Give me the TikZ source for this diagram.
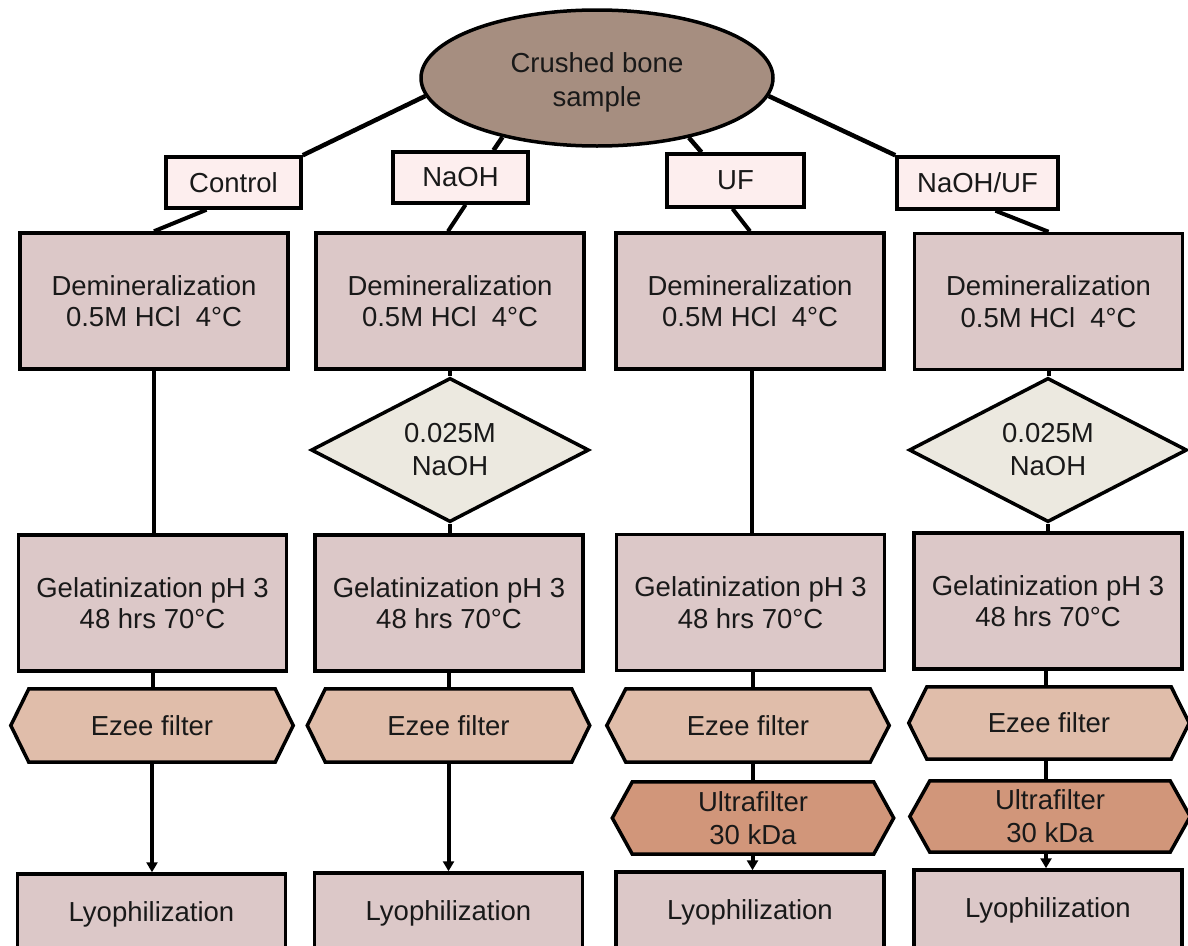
\documentclass[tikz,border=0pt]{standalone}
\usepackage{fontspec}
\setmainfont{Liberation Sans}
\usetikzlibrary{shapes.geometric,arrows.meta,backgrounds,calc}
\definecolor{ellfill}{RGB}{166,142,128}
\definecolor{labfill}{RGB}{253,238,238}
\definecolor{boxfill}{RGB}{220,200,200}
\definecolor{diafill}{RGB}{236,233,224}
\definecolor{ezeefill}{RGB}{224,189,170}
\definecolor{ultrafill}{RGB}{209,150,122}
\newcommand\hexdraw[3]{%
  \begin{pgfonlayer}{background}
  \filldraw[fill=#2, line width=3.5pt, line join=miter]
    (#1.west) -- ([xshift=#3]#1.north west) -- ([xshift=-#3]#1.north east)
    -- (#1.east) -- ([xshift=-#3]#1.south east) -- ([xshift=#3]#1.south west) -- cycle;
  \end{pgfonlayer}}
\begin{document}
\begin{tikzpicture}[x=1pt,y=-1pt,
  txt/.style={font=\fontsize{27.5}{31.5}\selectfont, align=center, inner sep=0pt, text=black!90},
  lab/.style={txt, draw, line width=3.5pt, fill=labfill, minimum height=51pt},
  stepbox/.style={txt, draw, line width=3.5pt, fill=boxfill, minimum width=268pt, minimum height=136pt},
  lyo/.style={txt, draw, line width=3.5pt, fill=boxfill, minimum width=268pt, minimum height=80pt},
  dia/.style={txt, draw, line width=3.5pt, fill=diafill, shape=diamond, minimum width=278pt, minimum height=134pt, font=\fontsize{27.5}{33}\selectfont},
  hex/.style={txt, minimum width=282pt, minimum height=73pt, font=\fontsize{27.5}{33}\selectfont},
  conn/.style={line width=4pt},
  arr/.style={line width=4pt, -{Triangle[length=10pt,width=11pt]}}]
\clip (0,0) rectangle (1188,945);
\begin{pgfonlayer}{background}
\fill[white] (0,0) rectangle (1188,945);
\end{pgfonlayer}
% top
\node[txt, draw, line width=3.5pt, fill=ellfill, shape=ellipse, minimum width=352pt, minimum height=136pt, font=\fontsize{27.5}{34}\selectfont, text height=63pt] (ell) at (597,78) {Crushed bone\\sample};
% labels
\node[lab, minimum width=135pt] (ctrl) at (233.5,182.5) {Control};
\node[lab, minimum width=135pt] (naoh) at (460.5,177.5) {NaOH};
\node[lab, minimum width=137pt, minimum height=53pt] (uf) at (735.5,180.5) {UF};
\node[lab, minimum width=161pt, minimum height=52pt] (nu) at (977.5,183) {NaOH/UF};
% demineralization
\node[stepbox] (d1) at (154,301) {Demineralization\\0.5M HCl\hspace{0.55em}4°C};
\node[stepbox] (d2) at (450,301) {Demineralization\\0.5M HCl\hspace{0.55em}4°C};
\node[stepbox] (d3) at (750,301) {Demineralization\\0.5M HCl\hspace{0.55em}4°C};
\node[stepbox] (d4) at (1048.5,301.5) {Demineralization\\0.5M HCl\hspace{0.55em}4°C};
% diamonds
\node[dia] (n2) at (450,450) {0.025M\\NaOH};
\node[dia] (n4) at (1048,450) {0.025M\\NaOH};
% gelatinization
\node[stepbox] (g1) at (152.5,603) {Gelatinization pH 3\\48 hrs 70°C};
\node[stepbox] (g2) at (449,603) {Gelatinization pH 3\\48 hrs 70°C};
\node[stepbox] (g3) at (750.5,602.5) {Gelatinization pH 3\\48 hrs 70°C};
\node[stepbox] (g4) at (1048,601) {Gelatinization pH 3\\48 hrs 70°C};
% ezee filter
\node[hex] (e1) at (152,725.5) {Ezee filter};
\node[hex] (e2) at (448.5,725.5) {Ezee filter};
\node[hex] (e3) at (748,725.5) {Ezee filter};
\node[hex, minimum width=280pt, minimum height=72pt] (e4) at (1049,723) {Ezee filter};
\hexdraw{e1}{ezeefill}{18pt}
\hexdraw{e2}{ezeefill}{18pt}
\hexdraw{e3}{ezeefill}{19pt}
\hexdraw{e4}{ezeefill}{18pt}
% ultrafilter
\node[hex, minimum width=281pt, minimum height=72pt] (u3) at (753,818) {Ultrafilter\\30 kDa};
\node[hex, minimum width=280pt, minimum height=71pt] (u4) at (1050,816.5) {Ultrafilter\\30 kDa};
\hexdraw{u3}{ultrafill}{20pt}
\hexdraw{u4}{ultrafill}{20pt}
% lyophilization
\node[lyo] (l1) at (151.5,914) {Lyophilization};
\node[lyo] (l2) at (448.5,913) {Lyophilization};
\node[lyo] (l3) at (750,912) {Lyophilization};
\node[lyo] (l4) at (1048,910) {Lyophilization};
% connectors from sample
\draw[conn, line width=4.5pt] (ell.186) -- (ctrl.north east);
\draw[conn, line width=4.5pt] (ell.212) -- ([xshift=33pt]naoh.north);
\draw[conn, line width=4.5pt] (ell.327) -- ([xshift=-34pt]uf.north);
\draw[conn, line width=4.5pt] (ell.354) -- (nu.north west);
% labels to demineralization
\draw[conn] ([xshift=-27pt]ctrl.south) -- (d1.north);
\draw[conn] ([xshift=5pt]naoh.south) -- ([xshift=-2pt]d2.north);
\draw[conn] ([xshift=-3pt]uf.south) -- (d3.north);
\draw[conn] ([xshift=18pt]nu.south) -- (d4.north);
% column 1
\draw[conn] (d1.south) -- (d1.south |- g1.north);
\draw[conn] (g1.south) -- (g1.south |- e1.north);
\draw[arr] (e1.south) -- (e1.south |- l1.north);
% column 2
\draw[conn] (d2.south) -- (n2.north);
\draw[conn] (n2.south) -- (n2.south |- g2.north);
\draw[conn] (g2.south) -- (g2.south |- e2.north);
\draw[arr] (e2.south) -- (e2.south |- l2.north);
% column 3
\draw[conn] ([xshift=2pt]d3.south) -- ([xshift=2pt]d3.south |- g3.north);
\draw[conn] ([xshift=2pt]g3.south) -- ([xshift=2pt]g3.south |- e3.north);
\draw[conn] ([xshift=2pt]g3.south |- e3.south) -- ([xshift=2pt]g3.south |- u3.north);
\draw[arr] ([xshift=2pt]g3.south |- u3.south) -- ([xshift=2pt]g3.south |- l3.north);
% column 4
\draw[conn] (d4.south) -- (d4.south |- n4.north);
\draw[conn] (n4.south) -- (n4.south |- g4.north);
\draw[conn] ([xshift=-2pt]g4.south) -- ([xshift=-2pt]g4.south |- e4.north);
\draw[conn] ([xshift=-2pt]g4.south |- e4.south) -- ([xshift=-2pt]g4.south |- u4.north);
\draw[arr] ([xshift=-2pt]g4.south |- u4.south) -- ([xshift=-2pt]g4.south |- l4.north);
\end{tikzpicture}
\end{document}
